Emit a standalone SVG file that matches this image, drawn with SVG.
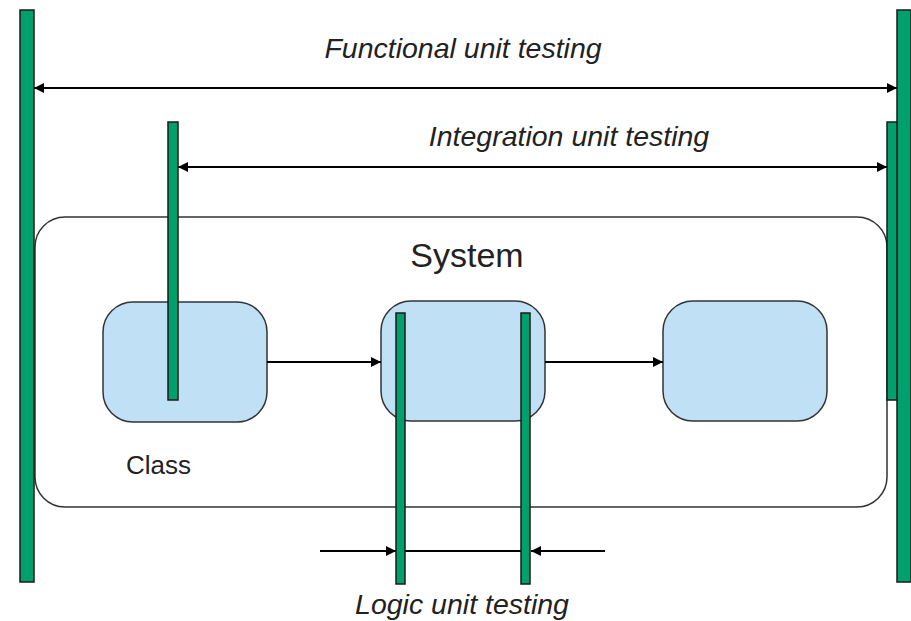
<svg xmlns="http://www.w3.org/2000/svg" width="911" height="621" viewBox="0 0 911 621">
<defs>
<style>
.bar{fill:#00a06c;stroke:#1a1a1a;stroke-width:1.5}
.box{fill:#c0e0f6;stroke:#333;stroke-width:1.5}
.sys{fill:#fff;stroke:#333;stroke-width:1.5}
.ln{stroke:#000;stroke-width:1.8;fill:none}
.t{font-family:"Liberation Sans",Arial,sans-serif;fill:#222}
.it{font-style:italic;font-size:28.5px}
</style>
<marker id="ah2" viewBox="0 0 10 10" refX="10" refY="5" markerWidth="10" markerHeight="10" markerUnits="userSpaceOnUse" orient="auto-start-reverse">
<path d="M0,0 L10,5 L0,10 Z" fill="#000"/>
</marker>
</defs>
<rect width="911" height="621" fill="#fff"/>
<g id="system">
<rect class="sys" x="35" y="217" width="852" height="290" rx="30" ry="30"/>
<text class="t" x="467" y="267" font-size="34" text-anchor="middle">System</text>
</g>
<g id="class">
<rect class="box" x="103" y="302" width="164" height="120" rx="30" ry="30"/>
<text class="t" x="126" y="474" font-size="26">Class</text>
</g>
<g id="middle">
<rect class="box" x="381" y="301" width="164" height="120" rx="30" ry="30"/>
</g>
<g id="right">
<rect class="box" x="663" y="301" width="164" height="120" rx="30" ry="30"/>
</g>
<g id="connectors">
<line class="ln" x1="267" y1="362" x2="381" y2="362" marker-end="url(#ah2)"/>
<line class="ln" x1="545" y1="362" x2="663" y2="362" marker-end="url(#ah2)"/>
<line class="ln" x1="34" y1="88" x2="897" y2="88" marker-start="url(#ah2)" marker-end="url(#ah2)"/>
<line class="ln" x1="178" y1="167" x2="887" y2="167" marker-start="url(#ah2)" marker-end="url(#ah2)"/>
<line class="ln" x1="320" y1="551" x2="396" y2="551" marker-end="url(#ah2)"/>
<line class="ln" x1="405" y1="551" x2="521" y2="551"/>
<line class="ln" x1="605" y1="551" x2="531" y2="551" marker-end="url(#ah2)"/>
</g>
<g id="functional">
<rect class="bar" x="20" y="10" width="14" height="572"/>
<rect class="bar" x="897" y="10" width="14" height="572"/>
<text class="t it" x="463" y="58" text-anchor="middle">Functional unit testing</text>
</g>
<g id="integration">
<rect class="bar" x="168" y="122" width="10" height="278"/>
<rect class="bar" x="887" y="122" width="10" height="278"/>
<text class="t it" x="569" y="146" text-anchor="middle">Integration unit testing</text>
</g>
<g id="logic">
<rect class="bar" x="396" y="313" width="9" height="271"/>
<rect class="bar" x="521" y="313" width="9" height="271"/>
<text class="t it" x="462" y="614" text-anchor="middle">Logic unit testing</text>
</g>
</svg>
